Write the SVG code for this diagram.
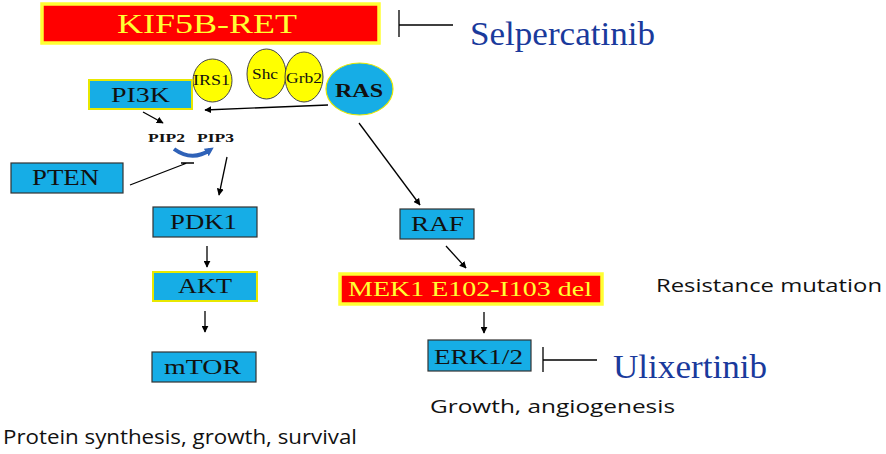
<svg xmlns="http://www.w3.org/2000/svg" width="886" height="454" viewBox="0 0 886 454">
<defs>
<marker id="ah" viewBox="0 0 10 10" refX="9" refY="5" markerWidth="7" markerHeight="7" orient="auto" markerUnits="userSpaceOnUse">
<path d="M0,0 L10,5 L0,10 z" fill="#000"/>
</marker>
<marker id="bah" viewBox="0 0 10 10" refX="5" refY="5" markerWidth="9" markerHeight="9" orient="auto" markerUnits="userSpaceOnUse">
<path d="M0,0 L10,5 L0,10 z" fill="#2f62b8"/>
</marker>
<style>
.box{fill:#16ade6;stroke:#333;stroke-width:1.2}
.boxy{fill:#16ade6;stroke:#e8e800;stroke-width:2}
.red{fill:#ff0000;stroke:#ffff33;stroke-width:3.5}
.ell{fill:#ffff00;stroke:#444;stroke-width:1}
.ser{font-family:"Liberation Serif","Times New Roman",serif;fill:#111}
.sans{font-family:"Open Sans","Liberation Sans",sans-serif;fill:#111}
.drug{font-family:"Liberation Serif","Times New Roman",serif;fill:#1a3a9c}
.ln{stroke:#000;stroke-width:1.3;fill:none}
.arr{stroke:#000;stroke-width:1.3;fill:none;marker-end:url(#ah)}
</style>
</defs>
<rect width="886" height="454" fill="#fff"/>

<g id="kif5b-ret">
<rect class="red" x="42" y="4" width="337" height="39"/>
<text class="ser" x="117" y="33" font-size="27" style="fill:#ffff33" textLength="180" lengthAdjust="spacingAndGlyphs">KIF5B-RET</text>
</g>
<g id="selpercatinib">
<text class="drug" x="470" y="45" font-size="33" textLength="185" lengthAdjust="spacingAndGlyphs">Selpercatinib</text>
</g>
<g id="irs1">
<ellipse class="ell" cx="212.5" cy="80.5" rx="19.5" ry="21.5"/>
<text class="ser" x="193" y="85" font-size="14" textLength="37" lengthAdjust="spacingAndGlyphs">IRS1</text>
</g>
<g id="shc">
<ellipse class="ell" cx="266.5" cy="74" rx="19.5" ry="25"/>
<text class="ser" x="252" y="79" font-size="14" textLength="26" lengthAdjust="spacingAndGlyphs">Shc</text>
</g>
<g id="grb2">
<ellipse class="ell" cx="304" cy="77" rx="19" ry="25"/>
<text class="ser" x="286" y="83" font-size="14" textLength="36" lengthAdjust="spacingAndGlyphs">Grb2</text>
</g>
<g id="ras">
<ellipse cx="359.5" cy="89" rx="33.5" ry="26" fill="#16ade6" stroke="#e8e800" stroke-width="1.2"/>
<text class="ser" x="335" y="97" font-size="19" font-weight="bold" textLength="48" lengthAdjust="spacingAndGlyphs">RAS</text>
</g>
<g id="pi3k">
<rect class="boxy" x="89" y="80" width="103" height="29"/>
<text class="ser" x="111" y="102" font-size="22" textLength="59" lengthAdjust="spacingAndGlyphs">PI3K</text>
</g>
<g id="pip">
<text class="ser" x="148" y="142" font-size="13" font-weight="bold" textLength="37" lengthAdjust="spacingAndGlyphs">PIP2</text>
<text class="ser" x="197" y="142" font-size="13" font-weight="bold" textLength="37" lengthAdjust="spacingAndGlyphs">PIP3</text>
<path d="M174,149 Q192,162 210,150" fill="none" stroke="#2f62b8" stroke-width="4" marker-end="url(#bah)"/>
</g>
<g id="pten">
<rect class="box" x="11" y="163" width="112" height="30"/>
<text class="ser" x="32" y="185" font-size="23" textLength="67" lengthAdjust="spacingAndGlyphs">PTEN</text>
</g>
<g id="pdk1">
<rect class="box" x="153" y="207" width="104" height="30"/>
<text class="ser" x="170" y="229" font-size="22" textLength="67" lengthAdjust="spacingAndGlyphs">PDK1</text>
</g>
<g id="akt">
<rect class="boxy" x="153" y="272" width="104" height="29"/>
<text class="ser" x="178" y="293" font-size="22" textLength="54" lengthAdjust="spacingAndGlyphs">AKT</text>
</g>
<g id="mtor">
<rect class="box" x="152" y="352" width="104" height="30"/>
<text class="ser" x="164" y="374" font-size="22" textLength="77" lengthAdjust="spacingAndGlyphs">mTOR</text>
</g>
<g id="raf">
<rect class="box" x="400" y="209" width="74" height="30"/>
<text class="ser" x="411" y="231" font-size="22" textLength="53" lengthAdjust="spacingAndGlyphs">RAF</text>
</g>
<g id="mek1">
<rect class="red" x="340" y="274" width="262" height="30" stroke-width="3"/>
<text class="ser" x="348" y="296" font-size="21" style="fill:#ffff33" textLength="244" lengthAdjust="spacingAndGlyphs">MEK1 E102-I103 del</text>
</g>
<g id="erk">
<rect class="box" x="428" y="340" width="103" height="31"/>
<text class="ser" x="434" y="364" font-size="21" textLength="89" lengthAdjust="spacingAndGlyphs">ERK1/2</text>
</g>
<g id="ulixertinib">
<text class="drug" x="613" y="378" font-size="34" textLength="154" lengthAdjust="spacingAndGlyphs">Ulixertinib</text>
</g>
<g id="labels">
<text class="sans" x="656" y="292" font-size="19" textLength="226" lengthAdjust="spacingAndGlyphs">Resistance mutation</text>
<text class="sans" x="430" y="413" font-size="18.5" textLength="245" lengthAdjust="spacingAndGlyphs">Growth, angiogenesis</text>
<text class="sans" x="3" y="444" font-size="20" textLength="354" lengthAdjust="spacingAndGlyphs">Protein synthesis, growth, survival</text>
</g>
<g id="connectors">
<path class="ln" d="M399,10 V37 M399,25 H453"/>
<path class="arr" d="M328,105 L205,110"/>
<path class="arr" d="M143,112 L163,123"/>
<path class="ln" d="M130,185 L187,163 M181,163 H194"/>
<path class="arr" d="M227,157 L219,195"/>
<path class="arr" d="M207,246 V267"/>
<path class="arr" d="M205,311 V332"/>
<path class="arr" d="M359,123 L420,205"/>
<path class="arr" d="M446,246 L466,268"/>
<path class="arr" d="M484,312 V333"/>
<path class="ln" d="M543,347 V372 M543,360 H597"/>
</g>
</svg>
